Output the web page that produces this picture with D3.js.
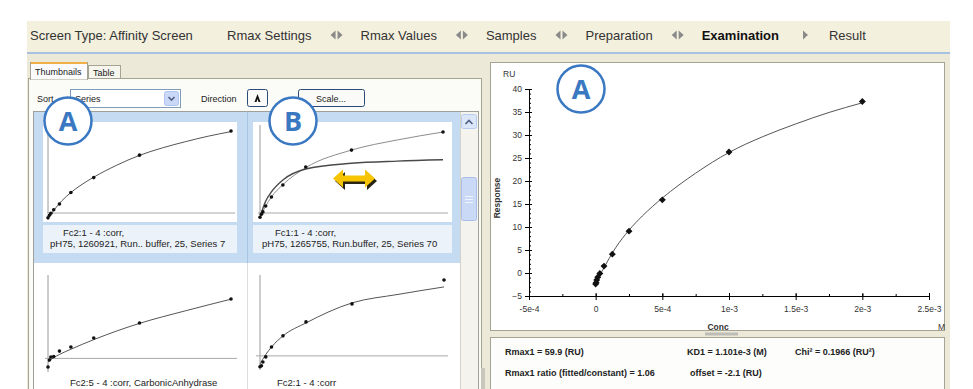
<!DOCTYPE html>
<html>
<head>
<meta charset="utf-8">
<script src="https://cdn.jsdelivr.net/npm/d3@7"></script>
<style>
  body { margin: 0; background: #fff; }
  svg { display: block; font-family: "Liberation Sans", Arial, sans-serif; }
</style>
</head>
<body>
<script>
// Wizard steps shown in the header bar
const screenType = "Screen Type: Affinity Screen";
const steps = ["Rmax Settings", "Rmax Values", "Samples", "Preparation", "Examination", "Result"];
const activeStep = "Examination";

// Main affinity plot (Series 7)
const conc = [0, 3.9e-6, 7.8e-6, 1.56e-5, 3.13e-5, 6.25e-5, 1.25e-4, 2.5e-4, 5e-4, 1e-3, 2e-3];
const response = [-2.4, -2.1, -1.5, -0.9, -0.1, 1.5, 4.1, 9.1, 15.9, 26.3, 37.3];
const fitConc = [0, 2.5e-5, 5e-5, 1e-4, 1.5e-4, 2.5e-4, 3.5e-4, 5e-4, 7.5e-4, 1e-3, 1.25e-3, 1.5e-3, 1.75e-3, 2e-3];
const fitResp = [-2.3, -0.9, 0.5, 3.1, 5.5, 9.3, 12.4, 16.3, 21.7, 26.2, 29.6, 32.4, 34.9, 37.0];
const xTicks = [-5e-4, 0, 5e-4, 1e-3, 1.5e-3, 2e-3, 2.5e-3];
const xTickLabels = ["-5e-4", "0", "5e-4", "1e-3", "1.5e-3", "2e-3", "2.5e-3"];
const yTicks = [-5, 0, 5, 10, 15, 20, 25, 30, 35, 40];

// Fit result lines under the plot
const resultRow1 = ["Rmax1 = 59.9 (RU)", "KD1 = 1.101e-3 (M)", "Chi\u00B2 = 0.1966 (RU\u00B2)"];
const resultRow2 = ["Rmax1 ratio (fitted/constant) = 1.06", "offset = -2.1 (RU)"];

// Thumbnails
const thumbConc = [0, 1.56e-5, 3.13e-5, 6.25e-5, 1.25e-4, 2.5e-4, 5e-4, 1e-3, 2e-3];
const thumb1Resp = [-2.2, -1.0, -0.1, 1.5, 4.1, 9.3, 16.1, 26.3, 37.3];
const thumb2Resp = [-1.9, -0.6, 0.5, 3.2, 7.3, 12.7, 20.9, 28.6, 36.8];
const thumb3Resp = [-4.1, -0.8, 0.7, 0.9, 3.5, 5.5, 9.8, 17.0, 28.5];
const thumb4Resp = [-5.4, -4.9, -3.0, -0.5, 4.4, 9.9, 16.8, 25.7, 37.5];
const thumbFitConc = [0, 6e-5, 1.25e-4, 2.5e-4, 5e-4, 1e-3, 1.5e-3, 2e-3];
const thumb2FitResp = [-1.9, 3.0, 7.3, 12.9, 20.6, 28.6, 33.2, 36.8];
const thumb2ConstResp = [-1.9, 5.2, 9.6, 15.0, 20.0, 22.6, 23.6, 24.2];
const thumb3FitResp = [-1.7, 0.3, 1.9, 4.4, 9.0, 16.8, 22.8, 28.4];
const thumb4FitResp = [-4.0, 0.5, 4.4, 9.9, 16.3, 26.2, 30.4, 34.1];
const thumbTitles = [
  ["Fc2:1 - 4 :corr,", "pH75, 1260921, Run.. buffer, 25, Series 7"],
  ["Fc1:1 - 4 :corr,", "pH75, 1265755, Run.buffer, 25, Series 70"],
  ["Fc2:5 - 4 :corr, CarbonicAnhydrase"],
  ["Fc2:1 - 4 :corr"]
];

const W = 973, H = 389;
const blue = "#3a78c2";
const frame = "#a5a392";

const svg = d3.select("body").append("svg")
    .attr("width", W)
    .attr("height", H)
    .attr("viewBox", [0, 0, W, H]);

// ---- window chrome ----
svg.append("rect").attr("x", 27).attr("y", 21).attr("width", 923).attr("height", H - 21).attr("fill", "#ece9d8");
svg.append("rect").attr("x", 27).attr("y", 21).attr("width", 923).attr("height", 31).attr("fill", "#f3f0de");
svg.append("rect").attr("x", 27).attr("y", 52).attr("width", 923).attr("height", 2).attr("fill", "#a8c2e2");

// header text + step arrows
const header = svg.append("g").attr("font-size", 13).attr("fill", "#333");
header.append("text").attr("x", 30).attr("y", 40).text(screenType);

function doubleArrow(g, x, y) {
  g.append("path").attr("d", `M${x},${y} L${x + 5},${y - 4.5} L${x + 5},${y + 4.5}Z`).attr("fill", "#8a8a8a");
  g.append("path").attr("d", `M${x + 12},${y} L${x + 7},${y - 4.5} L${x + 7},${y + 4.5}Z`).attr("fill", "#8a8a8a");
}

let hx = 227;
steps.forEach((s, i) => {
  const t = header.append("text").attr("x", hx).attr("y", 40).text(s)
      .attr("font-weight", s === activeStep ? "bold" : null)
      .attr("fill", s === activeStep ? "#111" : "#333");
  const w = t.node().getComputedTextLength();
  if (i < steps.length - 1) {
    if (steps[i + 1] === "Result") {
      const ax = hx + w + 24;
      header.append("path").attr("d", `M${ax + 5},${35} L${ax},${30.5} L${ax},${39.5}Z`).attr("fill", "#8a8a8a");
      hx = ax + 26;
    } else {
      doubleArrow(header, hx + w + 19, 35);
      hx = hx + w + 19 + 12 + 18;
    }
  }
});

// ---- left panel: tabs and controls ----
const left = svg.append("g").attr("font-size", 9).attr("fill", "#222");
left.append("rect").attr("x", 28.5).attr("y", 78.5).attr("width", 453).attr("height", 320)
    .attr("fill", "#fbfbf7").attr("stroke", frame);
left.append("rect").attr("x", 88.5).attr("y", 65.5).attr("width", 32).attr("height", 13)
    .attr("fill", "#f6f5ee").attr("stroke", frame);
left.append("text").attr("x", 93).attr("y", 75.5).text("Table");
left.append("rect").attr("x", 30.5).attr("y", 62.5).attr("width", 57).attr("height", 17)
    .attr("fill", "#fcfcfe").attr("stroke", frame);
left.append("rect").attr("x", 31).attr("y", 62).attr("width", 56).attr("height", 2).attr("fill", "#f0b048");
left.append("text").attr("x", 35).attr("y", 74.5).text("Thumbnails");
// hide tab border under the active tab
left.append("rect").attr("x", 31).attr("y", 78).attr("width", 56).attr("height", 1.5).attr("fill", "#fbfbf7");

left.append("text").attr("x", 37).attr("y", 101.5).text("Sort");
left.append("rect").attr("x", 70.5).attr("y", 89.5).attr("width", 110).attr("height", 18)
    .attr("fill", "#fff").attr("stroke", "#7f9db9");
left.append("text").attr("x", 75).attr("y", 101.5).text("Series");
left.append("rect").attr("x", 164.5).attr("y", 91.5).attr("width", 14).attr("height", 14).attr("rx", 2)
    .attr("fill", "#c9d8f6").attr("stroke", "#b0c4ef");
left.append("path").attr("d", "M168.5,97 L171.5,100 L174.5,97").attr("fill", "none").attr("stroke", "#4d6185").attr("stroke-width", 1.6);
left.append("text").attr("x", 201).attr("y", 101.5).text("Direction");
left.append("rect").attr("x", 247.5).attr("y", 89.5).attr("width", 20).attr("height", 17).attr("rx", 2)
    .attr("fill", "#fafaf8").attr("stroke", "#2b4a78");
left.append("path").attr("d", "M257.5,94 L254.5,102 L256.5,102 L257.5,99 L258.5,102 L260.5,102Z").attr("fill", "#111");
left.append("rect").attr("x", 298.5).attr("y", 89.5).attr("width", 66).attr("height", 17).attr("rx", 2)
    .attr("fill", "#fafaf8").attr("stroke", "#2b4a78");
left.append("text").attr("x", 331).attr("y", 101.5).attr("text-anchor", "middle").text("Scale...");

// thumbnail list box
left.append("rect").attr("x", 33.5).attr("y", 111.5).attr("width", 445).attr("height", 290)
    .attr("fill", "#fff").attr("stroke", "#a0a09a");
left.append("line").attr("x1", 247.5).attr("x2", 247.5).attr("y1", 263).attr("y2", H).attr("stroke", "#dcdcd8");

// selected (top) cells
[[34, 213], [247, 213]].forEach(([cx, cw]) => {
  left.append("rect").attr("x", cx).attr("y", 112).attr("width", cw).attr("height", 151).attr("fill", "#c4dbf2");
});
left.append("line").attr("x1", 247.5).attr("x2", 247.5).attr("y1", 112).attr("y2", 263).attr("stroke", "#a9c5e3");
[[43, 194], [253, 199]].forEach(([px, pw]) => {
  left.append("rect").attr("x", px).attr("y", 122).attr("width", pw).attr("height", 100).attr("fill", "#fff");
  left.append("rect").attr("x", px).attr("y", 225).attr("width", pw).attr("height", 28).attr("fill", "#ecf2f9");
});

// scrollbar
left.append("rect").attr("x", 460).attr("y", 112).attr("width", 18).attr("height", H - 112).attr("fill", "#f4f3ee");
left.append("line").attr("x1", 460.5).attr("x2", 460.5).attr("y1", 112).attr("y2", H).attr("stroke", "#d4d2c8");
left.append("rect").attr("x", 461.5).attr("y", 114.5).attr("width", 15).attr("height", 14).attr("rx", 2)
    .attr("fill", "#dbe6f9").attr("stroke", "#b9cbee");
left.append("path").attr("d", "M465.5,124 L469,120.5 L472.5,124").attr("fill", "none").attr("stroke", "#4d6185").attr("stroke-width", 1.6);
left.append("rect").attr("x", 461.5).attr("y", 177.5).attr("width", 15).attr("height", 43).attr("rx", 2)
    .attr("fill", "#cad9f6").attr("stroke", "#a9bde9");
[196, 199, 202].forEach(gy => {
  left.append("line").attr("x1", 465).attr("x2", 473).attr("y1", gy + 0.5).attr("y2", gy + 0.5).attr("stroke", "#eef3fd");
});
// splitter grip
svg.append("rect").attr("x", 481).attr("y", 368).attr("width", 4).attr("height", 21).attr("fill", "#c9c7bb");

// ---- thumbnail charts ----
function drawThumb(cfg) {
  const x = d3.scaleLinear().domain([0, 2e-3]).range(cfg.xr);
  const y = d3.scaleLinear().domain(cfg.yDomain).range(cfg.yr);
  const g = svg.append("g");
  g.append("line").attr("x1", x(0)).attr("x2", x(0)).attr("y1", cfg.yr[1]).attr("y2", cfg.vBottom)
      .attr("stroke", "#9a9a9a");
  g.append("line").attr("x1", cfg.hx[0]).attr("x2", cfg.hx[1]).attr("y1", y(0)).attr("y2", y(0))
      .attr("stroke", "#a8a8a8");
  const line = d3.line().x(d => x(d[0])).y(d => y(d[1])).curve(d3.curveMonotoneX);
  cfg.curves.forEach(c => {
    g.append("path").attr("d", line(c.conc.map((v, i) => [v, c.resp[i]])))
        .attr("fill", "none").attr("stroke", c.color).attr("stroke-width", c.width);
  });
  g.selectAll("circle").data(cfg.points).join("circle")
      .attr("cx", (d, i) => x(thumbConc[i])).attr("cy", d => y(d)).attr("r", 1.8).attr("fill", "#111");
  g.selectAll("text").data(cfg.title).join("text")
      .attr("x", (d, i) => cfg.titleX[i]).attr("y", (d, i) => cfg.titleY + i * 11)
      .attr("font-size", 9.5).attr("fill", "#222").text(d => d);
}

drawThumb({
  xr: [48, 231], yr: [224, 125], yDomain: [-5, 40], vBottom: 213, hx: [47, 235],
  points: thumb1Resp, title: thumbTitles[0], titleX: [63, 50], titleY: 236,
  curves: [{ conc: fitConc, resp: fitResp, color: "#555", width: 1 }]
});
drawThumb({
  xr: [260, 443], yr: [224, 125], yDomain: [-5, 40], vBottom: 215, hx: [258, 448],
  points: thumb2Resp, title: thumbTitles[1], titleX: [275, 262], titleY: 236,
  curves: [
    { conc: thumbFitConc, resp: thumb2FitResp, color: "#8c8c8c", width: 1 },
    { conc: thumbFitConc, resp: thumb2ConstResp, color: "#4a4a4a", width: 1.4 }
  ]
});
drawThumb({
  xr: [48, 231], yr: [373, 275], yDomain: [-7, 40], vBottom: 372, hx: [45, 237],
  points: thumb3Resp, title: thumbTitles[2], titleX: [70], titleY: 386,
  curves: [{ conc: thumbFitConc, resp: thumb3FitResp, color: "#555", width: 1 }]
});
drawThumb({
  xr: [260, 444], yr: [366, 275], yDomain: [-5, 40], vBottom: 370, hx: [256, 448],
  points: thumb4Resp, title: thumbTitles[3], titleX: [277], titleY: 386,
  curves: [{ conc: thumbFitConc, resp: thumb4FitResp, color: "#555", width: 1 }]
});

// yellow double arrow in thumbnail B
const arrowPts = [[-21, 0], [-11, -9], [-11, -3], [11, -3], [11, -9], [21, 0], [11, 9], [11, 3], [-11, 3], [-11, 9]];
const arrowPath = d3.line()(arrowPts) + "Z";
svg.append("path").attr("d", arrowPath).attr("transform", "translate(356,181)").attr("fill", "#2a2414");
svg.append("path").attr("d", arrowPath).attr("transform", "translate(354,178.5)").attr("fill", "#f6c400");

// ---- right panel: affinity plot ----
svg.append("rect").attr("x", 490.5).attr("y", 62.5).attr("width", 454).attr("height", 268)
    .attr("fill", "#fff").attr("stroke", frame);
svg.append("rect").attr("x", 490.5).attr("y", 337.5).attr("width", 454).attr("height", 60)
    .attr("fill", "#fdfdfb").attr("stroke", frame);
svg.append("rect").attr("x", 705).attr("y", 332.5).attr("width", 33).attr("height", 3).attr("fill", "#bdbdb8");

const x = d3.scaleLinear().domain([-5e-4, 2.5e-3]).range([529, 929]);
const y = d3.scaleLinear().domain([-5, 40]).range([296, 89]);
const plot = svg.append("g");

// minor ticks
plot.append("g").attr("transform", `translate(${x(-5e-4)},0)`)
    .call(d3.axisRight(y).tickValues(d3.range(-5, 41, 1)).tickSize(2).tickFormat(""))
    .call(g => g.select(".domain").remove());
plot.append("g").attr("transform", `translate(0,${y(-5)})`)
    .call(d3.axisTop(x).tickValues(d3.range(-5e-4, 2.6e-3, 2.5e-4)).tickSize(2).tickFormat(""))
    .call(g => g.select(".domain").remove());
plot.append("g").attr("transform", `translate(${x(-5e-4)},0)`)
    .call(d3.axisRight(y).tickValues(yTicks).tickSize(3).tickFormat(""))
    .call(g => g.select(".domain").remove());
plot.append("g").attr("transform", `translate(0,${y(-5)})`)
    .call(d3.axisTop(x).tickValues(xTicks).tickSize(3).tickFormat(""))
    .call(g => g.select(".domain").remove());

// major axes
plot.append("g").attr("transform", `translate(${x(-5e-4)},0)`)
    .call(d3.axisLeft(y).tickValues(yTicks).tickSizeInner(4).tickSizeOuter(0).tickPadding(3))
    .call(g => g.selectAll("text").attr("font-size", 8.5).attr("font-family", "Liberation Sans, Arial").attr("fill", "#333"));
plot.append("g").attr("transform", `translate(0,${y(-5)})`)
    .call(d3.axisBottom(x).tickValues(xTicks).tickFormat((d, i) => xTickLabels[i])
        .tickSizeInner(4).tickSizeOuter(0).tickPadding(6))
    .call(g => g.selectAll("text").attr("font-size", 8.5).attr("font-family", "Liberation Sans, Arial").attr("fill", "#333"));

plot.append("text").attr("x", 503).attr("y", 77).attr("font-size", 8.5).attr("fill", "#333").text("RU");
plot.append("text").attr("transform", "translate(500,198) rotate(-90)").attr("text-anchor", "middle")
    .attr("font-size", 8.5).attr("font-weight", "bold").attr("fill", "#333").text("Response");
plot.append("text").attr("x", 718).attr("y", 330).attr("text-anchor", "middle")
    .attr("font-size", 8.5).attr("font-weight", "bold").attr("fill", "#333").text("Conc");
plot.append("text").attr("x", 938).attr("y", 330).attr("font-size", 8.5).attr("fill", "#333").text("M");

// fitted curve and measured points
plot.append("path")
    .attr("d", d3.line().x(d => x(d[0])).y(d => y(d[1])).curve(d3.curveMonotoneX)(fitConc.map((c, i) => [c, fitResp[i]])))
    .attr("fill", "none").attr("stroke", "#555").attr("stroke-width", 1);
plot.selectAll(".pt").data(conc).join("path").attr("class", "pt")
    .attr("d", d3.symbol(d3.symbolSquare, 24)())
    .attr("transform", (d, i) => `translate(${x(d)},${y(response[i])}) rotate(45)`)
    .attr("fill", "#111");

// fit results
const info = svg.append("g").attr("font-size", 9).attr("font-weight", "bold").attr("fill", "#222");
info.append("text").attr("x", 505).attr("y", 355).text(resultRow1[0]);
info.append("text").attr("x", 687).attr("y", 355).text(resultRow1[1]);
info.append("text").attr("x", 795).attr("y", 355).text(resultRow1[2]);
info.append("text").attr("x", 505).attr("y", 376).text(resultRow2[0]);
info.append("text").attr("x", 690).attr("y", 376).text(resultRow2[1]);

// ---- callout circles ----
const callouts = [["A", 68, 121], ["B", 293, 121], ["A", 581, 89]];
const cg = svg.selectAll(".callout").data(callouts).join("g").attr("class", "callout")
    .attr("transform", d => `translate(${d[1]},${d[2]})`);
cg.append("circle").attr("r", 23.5).attr("fill", "#fff").attr("stroke", blue).attr("stroke-width", 2.5);
cg.append("text").attr("text-anchor", "middle").attr("dy", "0.36em")
    .attr("font-family", "Open Sans, sans-serif").attr("font-weight", "bold").attr("font-size", 27)
    .attr("fill", blue).text(d => d[0]);
</script>
</body>
</html>
